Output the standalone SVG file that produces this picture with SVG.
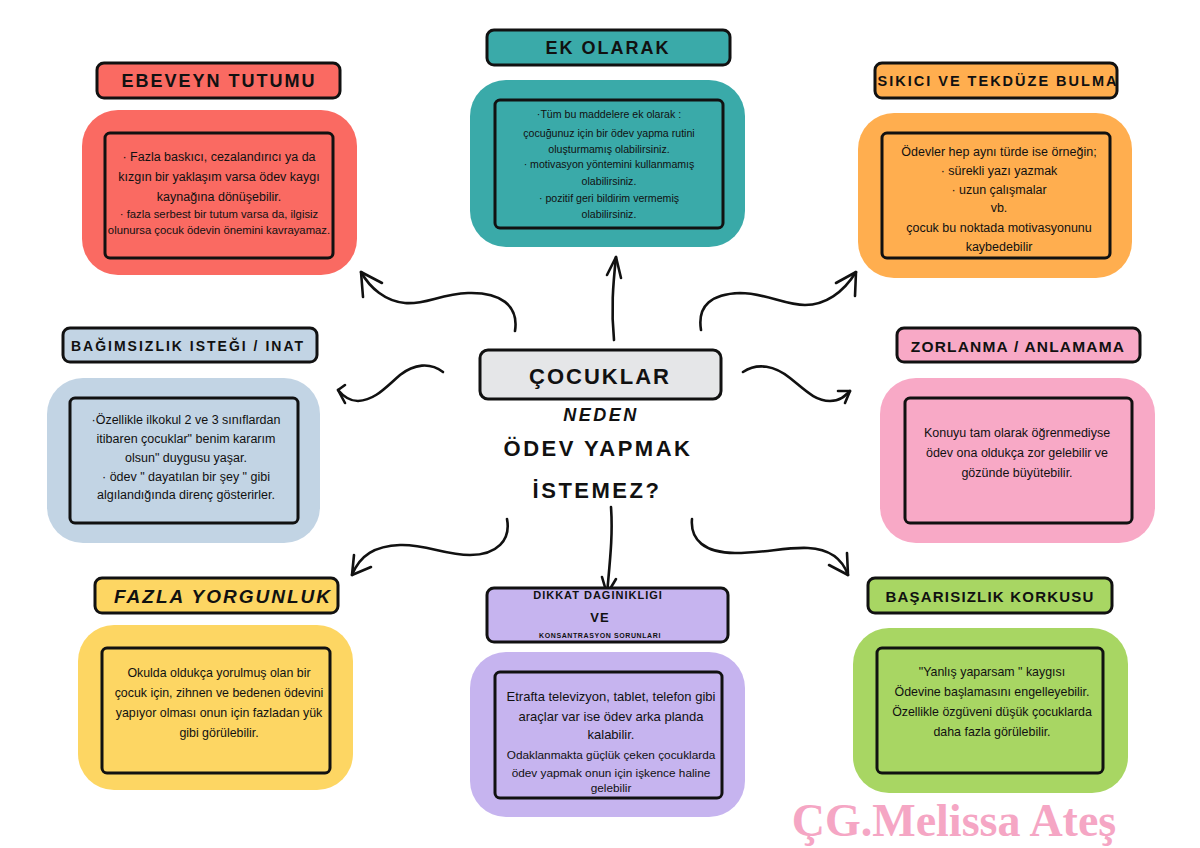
<svg xmlns="http://www.w3.org/2000/svg" width="1200" height="848" viewBox="0 0 1200 848">
<style>
.bg{stroke:none}
.ttl{stroke:#111;stroke-width:3}
.inr{fill:none;stroke:#111;stroke-width:3}
.tt{font-family:"Liberation Sans",Arial,sans-serif;font-weight:bold;fill:#111;text-anchor:middle}
.bd{font-family:"Liberation Sans",Arial,sans-serif;fill:#111;text-anchor:middle}
.ct{font-family:"Liberation Sans",Arial,sans-serif;font-weight:bold;fill:#111;text-anchor:middle}
.ar{fill:none;stroke:#111;stroke-width:2.6;stroke-linecap:round;stroke-linejoin:round}
</style>
<rect width="1200" height="848" fill="#ffffff"/>

<g id="connectors">
  <path class="ar" d="M515,331 C519,305 500,292 468,293 C440,294 425,305 405,303 C385,301 370,288 361,272"/>
  <path class="ar" d="M382,283 L361,272 L363,297"/>
  <path class="ar" d="M614,340 C611,310 613,285 616,257"/>
  <path class="ar" d="M607,275 L616,257 L621,278"/>
  <path class="ar" d="M701,330 C697,305 712,294 740,293 C765,293 785,305 805,305 C825,305 843,293 856,272"/>
  <path class="ar" d="M836,283 L856,272 L855,296"/>
  <path class="ar" d="M443,372 C430,362 414,364 400,375 C385,388 375,400 358,401 C350,401 343,396 338,390"/>
  <path class="ar" d="M345,385 L338,390 L345,403"/>
  <path class="ar" d="M743,372 C758,362 775,366 790,378 C805,390 815,401 830,401 C840,401 845,396 850,391"/>
  <path class="ar" d="M838,391 L850,391 L845,403"/>
  <path class="ar" d="M507,519 C511,540 497,555 470,555 C445,555 425,544 400,545 C375,546 360,555 352,575"/>
  <path class="ar" d="M354,555 L352,575 L371,567"/>
  <path class="ar" d="M611,507 C613,535 610,560 607,594"/>
  <path class="ar" d="M602,577 L607,594 L616,579"/>
  <path class="ar" d="M692,519 C690,540 705,553 735,553 C765,553 785,547 808,548 C828,549 842,558 848,575"/>
  <path class="ar" d="M829,565 L848,575 L847,553"/>
</g>

<g id="center">
  <rect class="ttl" x="480" y="350" width="241" height="49" rx="8" fill="#e5e6e8"/>
  <text class="ct" x="600" y="384" font-size="22" letter-spacing="2">ÇOCUKLAR</text>
  <text class="ct" x="601" y="421" font-size="18" font-style="italic" letter-spacing="2.5">NEDEN</text>
  <text class="ct" x="598" y="456" font-size="22" letter-spacing="2.5">ÖDEV YAPMAK</text>
  <text class="ct" x="597" y="498" font-size="22" letter-spacing="2.5">İSTEMEZ?</text>
</g>

<g id="ebeveyn">
  <rect class="ttl" x="97" y="63" width="243" height="35" rx="7" fill="#fa6a62"/>
  <text class="tt" x="219" y="87" font-size="18" letter-spacing="2">EBEVEYN TUTUMU</text>
  <rect class="bg" x="82" y="110" width="275" height="165" rx="36" fill="#fa6a62"/>
  <rect class="inr" x="105" y="133" width="228" height="125" rx="5"/>
  <text class="bd" x="219" y="161" font-size="12.5">· Fazla baskıcı, cezalandırıcı  ya da</text>
  <text class="bd" x="219" y="181" font-size="12.5">kızgın bir yaklaşım varsa ödev kaygı</text>
  <text class="bd" x="219" y="201" font-size="12.5">kaynağına dönüşebilir.</text>
  <text class="bd" x="219" y="218" font-size="11.3">· fazla serbest bir tutum varsa da, ilgisiz</text>
  <text class="bd" x="219" y="234" font-size="11.3">olunursa çocuk ödevin önemini kavrayamaz.</text>
</g>

<g id="ek-olarak">
  <rect class="ttl" x="487" y="30" width="243" height="35" rx="7" fill="#3aaaa9"/>
  <text class="tt" x="608" y="54" font-size="18" letter-spacing="2">EK OLARAK</text>
  <rect class="bg" x="470" y="80" width="275" height="167" rx="36" fill="#3aaaa9"/>
  <rect class="inr" x="495" y="100" width="228" height="128" rx="5"/>
  <text class="bd" x="609" y="118" font-size="10.6">·Tüm bu maddelere ek olarak :</text>
  <text class="bd" x="609" y="137" font-size="10.6">çocuğunuz için bir ödev yapma rutini</text>
  <text class="bd" x="609" y="153" font-size="10.6">oluşturmamış olabilirsiniz.</text>
  <text class="bd" x="609" y="168" font-size="10.6">· motivasyon yöntemini kullanmamış</text>
  <text class="bd" x="609" y="185" font-size="10.6">olabilirsiniz.</text>
  <text class="bd" x="609" y="202" font-size="10.6">· pozitif geri bildirim vermemiş</text>
  <text class="bd" x="609" y="218" font-size="10.6">olabilirsiniz.</text>
</g>

<g id="sikici">
  <rect class="ttl" x="875" y="63" width="242" height="35" rx="7" fill="#ffae4f"/>
  <text class="tt" x="998" y="86" font-size="14.5" letter-spacing="2">SIKICI VE TEKDÜZE BULMA</text>
  <rect class="bg" x="858" y="113" width="274" height="165" rx="36" fill="#ffae4f"/>
  <rect class="inr" x="882" y="133" width="228" height="125" rx="5"/>
  <text class="bd" x="999" y="156" font-size="12.5">Ödevler hep aynı türde ise örneğin;</text>
  <text class="bd" x="999" y="175" font-size="12.5">· sürekli yazı yazmak</text>
  <text class="bd" x="999" y="194" font-size="12.5">· uzun çalışmalar</text>
  <text class="bd" x="999" y="212" font-size="12.5">vb.</text>
  <text class="bd" x="999" y="232" font-size="12.5">çocuk bu noktada motivasyonunu</text>
  <text class="bd" x="999" y="251" font-size="12.5">kaybedebilir</text>
</g>

<g id="bagimsizlik">
  <rect class="ttl" x="63" y="328" width="254" height="34" rx="7" fill="#c2d4e4"/>
  <text class="tt" x="188" y="351" font-size="14" letter-spacing="2">BAĞIMSIZLIK ISTEĞI / INAT</text>
  <rect class="bg" x="47" y="378" width="273" height="165" rx="36" fill="#c2d4e4"/>
  <rect class="inr" x="70" y="398" width="228" height="125" rx="5"/>
  <text class="bd" x="186" y="424" font-size="12.5">·Özellikle ilkokul 2 ve 3 sınıflardan</text>
  <text class="bd" x="186" y="443" font-size="12.5">itibaren çocuklar" benim kararım</text>
  <text class="bd" x="186" y="462" font-size="12.5">olsun" duygusu yaşar.</text>
  <text class="bd" x="186" y="481" font-size="12.5">· ödev " dayatılan bir şey " gibi</text>
  <text class="bd" x="186" y="499" font-size="12.5">algılandığında direnç gösterirler.</text>
</g>

<g id="zorlanma">
  <rect class="ttl" x="897" y="328" width="243" height="34" rx="7" fill="#f8a9c6"/>
  <text class="tt" x="1018" y="352" font-size="15.5" letter-spacing="1.2">ZORLANMA / ANLAMAMA</text>
  <rect class="bg" x="880" y="378" width="275" height="165" rx="36" fill="#f8a9c6"/>
  <rect class="inr" x="905" y="398" width="227" height="125" rx="5"/>
  <text class="bd" x="1017" y="437" font-size="12.5">Konuyu tam olarak öğrenmediyse</text>
  <text class="bd" x="1017" y="457" font-size="12.5">ödev ona oldukça zor gelebilir ve</text>
  <text class="bd" x="1017" y="477" font-size="12.5">gözünde büyütebilir.</text>
</g>

<g id="yorgunluk">
  <rect class="ttl" x="95" y="578" width="243" height="35" rx="7" fill="#fdd663"/>
  <text class="tt" x="223" y="603" font-size="19" font-style="italic" letter-spacing="2">FAZLA YORGUNLUK</text>
  <rect class="bg" x="78" y="625" width="275" height="165" rx="36" fill="#fdd663"/>
  <rect class="inr" x="102" y="648" width="228" height="125" rx="5"/>
  <text class="bd" x="219" y="677" font-size="12.4">Okulda oldukça yorulmuş olan bir</text>
  <text class="bd" x="219" y="697" font-size="12.4">çocuk için, zihnen ve bedenen ödevini</text>
  <text class="bd" x="219" y="717" font-size="12.4">yapıyor olması onun için fazladan yük</text>
  <text class="bd" x="219" y="737" font-size="12.4">gibi görülebilir.</text>
</g>

<g id="dikkat">
  <rect class="ttl" x="487" y="588" width="241" height="54" rx="7" fill="#c6b4ef"/>
  <text class="tt" x="598" y="599" font-size="11" letter-spacing="1">DIKKAT DAGINIKLIGI</text>
  <text class="tt" x="600" y="622" font-size="13" letter-spacing="1">VE</text>
  <text class="tt" x="600" y="638" font-size="7" letter-spacing="0.6">KONSANTRASYON SORUNLARI</text>
  <rect class="bg" x="470" y="652" width="275" height="165" rx="36" fill="#c6b4ef"/>
  <rect class="inr" x="495" y="672" width="227" height="126" rx="5"/>
  <text class="bd" x="611" y="701" font-size="13">Etrafta televizyon, tablet, telefon gibi</text>
  <text class="bd" x="611" y="721" font-size="13">araçlar var ise ödev arka planda</text>
  <text class="bd" x="611" y="739" font-size="13">kalabilir.</text>
  <text class="bd" x="611" y="759" font-size="11.8">Odaklanmakta güçlük çeken çocuklarda</text>
  <text class="bd" x="611" y="777" font-size="11.8">ödev yapmak onun için işkence haline</text>
  <text class="bd" x="611" y="792" font-size="11.8">gelebilir</text>
</g>

<g id="basarisizlik">
  <rect class="ttl" x="868" y="578" width="244" height="35" rx="7" fill="#a8d663"/>
  <text class="tt" x="990" y="602" font-size="15" letter-spacing="1.2">BAŞARISIZLIK KORKUSU</text>
  <rect class="bg" x="853" y="628" width="275" height="165" rx="36" fill="#a8d663"/>
  <rect class="inr" x="877" y="648" width="226" height="125" rx="5"/>
  <text class="bd" x="992" y="676" font-size="12.4">"Yanlış yaparsam " kaygısı</text>
  <text class="bd" x="992" y="696" font-size="12.4">Ödevine başlamasını engelleyebilir.</text>
  <text class="bd" x="992" y="716" font-size="12.4">Özellikle özgüveni düşük çocuklarda</text>
  <text class="bd" x="992" y="736" font-size="12.4">daha fazla görülebilir.</text>
</g>

<text x="954" y="836" font-family="Liberation Serif,'DejaVu Serif',serif" font-weight="bold" font-size="46" fill="#f5a6c4" text-anchor="middle">ÇG.Melissa Ateş</text>
</svg>
